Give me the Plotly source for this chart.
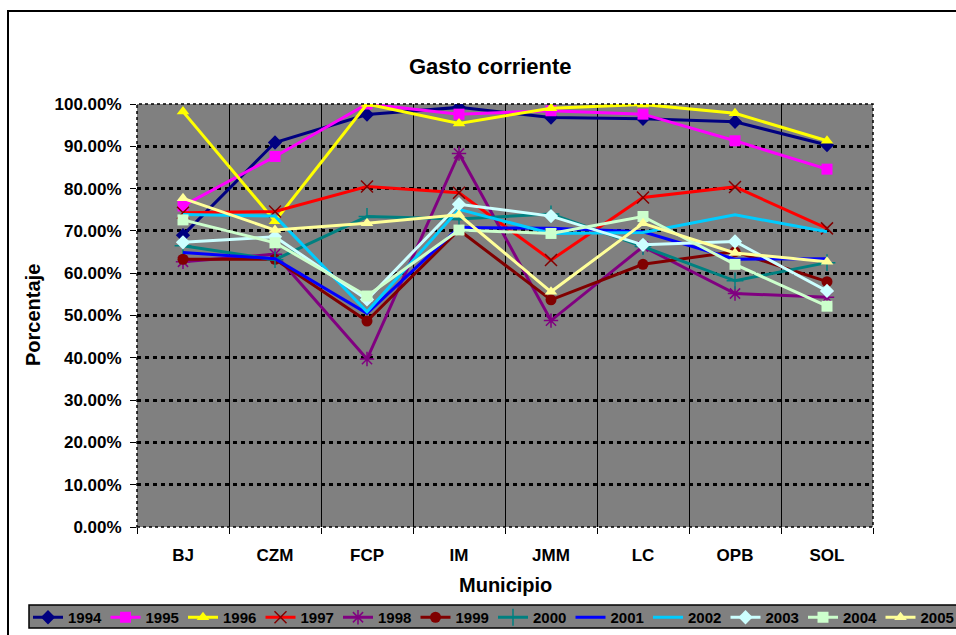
import plotly.graph_objects as go

municipios = ["BJ", "CZM", "FCP", "IM", "JMM", "LC", "OPB", "SOL"]

g1994 = [69.0, 90.9, 97.5, 99.2, 96.8, 96.5, 95.8, 90.3]
g1995 = [75.9, 87.6, 100.0, 97.6, 98.4, 97.6, 91.3, 84.6]
g1996 = [98.2, 72.3, 100.0, 95.4, 99.0, 99.9, 97.8, 91.3]
g1997 = [74.3, 74.6, 80.5, 79.0, 63.1, 77.9, 80.4, 70.6]
g1998 = [62.7, 64.5, 39.7, 88.3, 48.8, 66.3, 55.2, 54.3]
g1999 = [63.3, 63.3, 48.7, 70.2, 53.7, 62.1, 65.1, 58.0]
g2000 = [66.5, 63.2, 73.4, 72.8, 74.0, 66.3, 58.2, 62.5]
g2001 = [64.9, 63.4, 50.5, 70.8, 70.6, 69.8, 63.3, 63.4]
g2002 = [73.9, 73.5, 50.9, 75.1, 69.4, 69.6, 73.8, 69.8]
g2003 = [67.3, 68.6, 53.8, 76.3, 73.5, 66.7, 67.5, 55.8]
g2004 = [72.6, 67.2, 54.6, 70.2, 69.4, 73.4, 62.1, 52.2]
g2005 = [77.7, 70.2, 71.8, 73.8, 55.6, 71.8, 64.8, 62.7]

y_ticks = [0, 10, 20, 30, 40, 50, 60, 70, 80, 90, 100]
y_ticktext = ["0.00%", "10.00%", "20.00%", "30.00%", "40.00%", "50.00%",
              "60.00%", "70.00%", "80.00%", "90.00%", "100.00%"]

series = [
    ("1994", g1994, "#000080", "#000080", "diamond", "lines+markers"),
    ("1995", g1995, "#FF00FF", "#FF00FF", "square", "lines+markers"),
    ("1996", g1996, "#FFFF00", "#FFFF00", "triangle-up", "lines+markers"),
    ("1997", g1997, "#FF0000", "#800000", "x-thin-open", "lines+markers"),
    ("1998", g1998, "#800080", "#800080", "asterisk-open", "lines+markers"),
    ("1999", g1999, "#800000", "#800000", "circle", "lines+markers"),
    ("2000", g2000, "#008080", "#008080", "cross-thin-open", "lines+markers"),
    ("2001", g2001, "#0000FF", "#0000FF", "circle", "lines"),
    ("2002", g2002, "#00CCFF", "#00CCFF", "circle", "lines"),
    ("2003", g2003, "#CCFFFF", "#CCFFFF", "diamond", "lines+markers"),
    ("2004", g2004, "#CCFFCC", "#CCFFCC", "square", "lines+markers"),
    ("2005", g2005, "#FFFF99", "#FFFF99", "triangle-up", "lines+markers"),
]

FONT = "Liberation Sans, Arial, sans-serif"

W, H = 956, 635
L, R, T, B = 137, 83, 104, 108
pw, ph = W - L - R, H - T - B


def px_x(p):
    return (p - L) / pw


def px_y(p):
    return (H - B - p) / ph


fig = go.Figure()
for i, (name, vals, lc, mc, sym, mode) in enumerate(series):
    if sym in ("x-thin-open", "asterisk-open", "cross-thin-open"):
        mk = dict(symbol=sym, size=12, color=mc, line=dict(color=mc, width=1.5))
    else:
        mk = dict(symbol=sym, size=11, color=mc, line=dict(width=0))
    fig.add_trace(go.Scatter(
        x=municipios, y=vals, name=name, mode=mode,
        line=dict(color=lc, width=3),
        marker=mk,
        legend="legend" if i < 6 else "legend2",
    ))

LEG_ENTRY = 32.5
leg_common = dict(
    orientation="h",
    yanchor="top",
    bgcolor="rgba(0,0,0,0)",
    borderwidth=0,
    font=dict(family=FONT, size=15, color="black", weight="bold"),
    entrywidth=LEG_ENTRY,
    itemwidth=30,
    xanchor="left",
)

fig.update_layout(
    width=W, height=H,
    margin=dict(l=L, r=R, t=T, b=B, pad=0, autoexpand=False),
    paper_bgcolor="white",
    plot_bgcolor="#808080",
    font=dict(family=FONT, color="black", size=16),
    showlegend=True,
    legend=dict(x=px_x(28), y=px_y(601), **leg_common),
    legend2=dict(x=px_x(28 + 6 * 77.5), y=px_y(601), **leg_common),
    xaxis=dict(
        type="category",
        categoryorder="array", categoryarray=municipios,
        range=[-0.5, 7.5],
        tickson="boundaries",
        showgrid=True, gridcolor="black", gridwidth=1,
        ticks="outside", ticklen=6, tickcolor="black",
        ticklabelstandoff=16,
        tickfont=dict(family=FONT, size=17, color="black", weight="bold"),
        showline=False, zeroline=False,
    ),
    yaxis=dict(
        range=[0, 100],
        tickvals=y_ticks, ticktext=y_ticktext,
        showgrid=True, gridcolor="black", gridwidth=2.5, griddash="4px,4px",
        ticks="outside", ticklen=6, tickcolor="black",
        ticklabelstandoff=5,
        tickfont=dict(family=FONT, size=17, color="black", weight="bold"),
        showline=False, zeroline=False,
    ),
    annotations=[
        dict(text="Gasto corriente", xref="paper", yref="paper",
             x=px_x(490), y=px_y(66), xanchor="center", yanchor="middle",
             showarrow=False, font=dict(family=FONT, size=22, color="black", weight="bold")),
        dict(text="Municipio", xref="paper", yref="paper",
             x=0.5, y=px_y(585), xanchor="center", yanchor="middle",
             showarrow=False, font=dict(family=FONT, size=20, color="black", weight="bold")),
        dict(text="Porcentaje", xref="paper", yref="paper", textangle=-90,
             x=px_x(33), y=px_y(315), xanchor="center", yanchor="middle",
             showarrow=False, font=dict(family=FONT, size=20, color="black", weight="bold")),
    ],
    shapes=[
        # plot area border (dotted)
        dict(type="rect", xref="paper", yref="paper", x0=0, x1=1, y0=0, y1=1,
             line=dict(color="black", width=1.5, dash="dot"), layer="above"),
        # chart area border (left and top edges visible)
        dict(type="line", xref="paper", yref="paper",
             x0=px_x(8), x1=px_x(8), y0=px_y(10), y1=px_y(700),
             line=dict(color="black", width=2)),
        dict(type="line", xref="paper", yref="paper",
             x0=px_x(7), x1=px_x(1000), y0=px_y(11), y1=px_y(11),
             line=dict(color="black", width=2)),
        # legend box
        dict(type="rect", xref="paper", yref="paper",
             x0=px_x(29), x1=px_x(1000), y0=px_y(628), y1=px_y(605),
             fillcolor="#808080", line=dict(color="black", width=1.5), layer="below"),
    ],
)

fig.write_html("out.html", config={"displayModeBar": False},
               post_script="document.body.style.margin='0px';")
